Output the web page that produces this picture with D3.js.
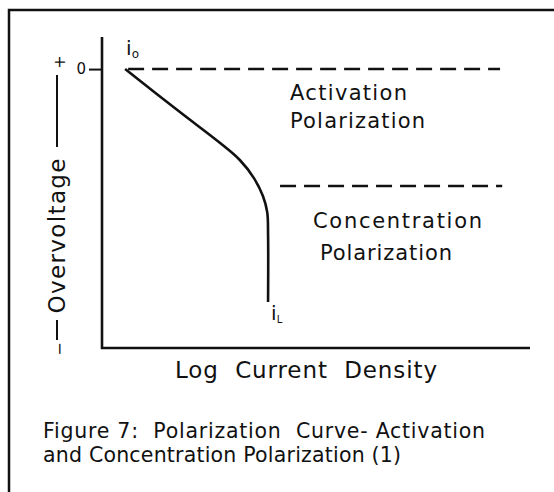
<!DOCTYPE html>
<html>
<head>
<meta charset="utf-8">
<script src="https://cdn.jsdelivr.net/npm/d3@7"></script>
<style>
  body { margin: 0; background: #fff; }
  svg { display: block; }
  text { font-family: 'DejaVu Sans', sans-serif; fill: #111; white-space: pre; }
</style>
</head>
<body>
<div id="chart"></div>
<script>
// polarization curve (log current density vs overvoltage)
const curveX = [0.54, 1.82, 2.76, 3.22, 3.55, 3.76, 3.86, 3.88, 3.88];
const curveY = [0, -0.154, -0.265, -0.326, -0.391, -0.455, -0.513, -0.595, -0.835];

// the two dashed boundaries
const boundaryNames = ['activation', 'concentration'];
const boundaryY = [0, -0.419];
const boundaryFrom = [0.61, 4.16];
const boundaryTo = [9.3, 9.35];

const regionLabels = [['Activation', 'Polarization'], ['Concentration', 'Polarization']];
const yTicks = [0];
const xLabel = 'Log  Current  Density';
const yLabel = 'Overvoltage';
const caption = ['Figure 7:  Polarization  Curve- Activation', 'and Concentration Polarization (1)'];

const width = 554, height = 492;
const margin = {top: 37, right: 24, bottom: 144, left: 102};

const svg = d3.select('#chart').append('svg')
  .attr('width', width)
  .attr('height', height);

// frame around the figure (top and left edges show on the scan)
svg.append('path')
  .attr('d', `M9,${height} L9,10 L${width},10`)
  .attr('fill', 'none')
  .attr('stroke', '#111')
  .attr('stroke-width', 2.5);

const x = d3.scaleLinear().domain([0, 10]).range([margin.left, width - margin.right]);
const y = d3.scaleLinear().domain([-1, 0.115]).range([height - margin.bottom, margin.top]);

// axes: plain L shape, one tick at 0
svg.append('path')
  .attr('d', `M${x(0)},${y(0.115)} L${x(0)},${y(-1)} L${x(10)},${y(-1)}`)
  .attr('fill', 'none')
  .attr('stroke', '#111')
  .attr('stroke-width', 2.6);

const yAxis = d3.axisLeft(y).tickValues(yTicks).tickFormat(d3.format('d')).tickSize(13).tickPadding(3);
const yg = svg.append('g').attr('transform', `translate(${x(0)},0)`).call(yAxis);
yg.select('.domain').remove();
yg.selectAll('.tick line').attr('stroke', '#111').attr('stroke-width', 2);
yg.selectAll('.tick text').style('font-size', '15px').attr('fill', '#111');

// dashed region boundaries
boundaryNames.forEach((name, i) => {
  svg.append('line')
    .attr('class', name)
    .attr('x1', x(boundaryFrom[i]))
    .attr('x2', x(boundaryTo[i]))
    .attr('y1', y(boundaryY[i]))
    .attr('y2', y(boundaryY[i]))
    .attr('stroke', '#111')
    .attr('stroke-width', 2.5)
    .attr('stroke-dasharray', '16,8');
});

// the curve itself
const pts = curveX.map((d, i) => [d, curveY[i]]);
const line = d3.line()
  .x(d => x(d[0]))
  .y(d => y(d[1]))
  .curve(d3.curveCatmullRom.alpha(0.5));

svg.append('path')
  .datum(pts)
  .attr('d', line)
  .attr('fill', 'none')
  .attr('stroke', '#111')
  .attr('stroke-width', 2.6);

// i0 and iL markers
const first = pts[0], last = pts[pts.length - 1];
const i0 = svg.append('text')
  .attr('x', x(first[0]) + 1)
  .attr('y', y(first[1]) - 14)
  .style('font-size', '20px');
i0.append('tspan').text('i');
i0.append('tspan').attr('dy', 3).style('font-size', '12px').text('o');

const iL = svg.append('text')
  .attr('x', x(last[0]) + 3)
  .attr('y', y(last[1]) + 18)
  .style('font-size', '20px');
iL.append('tspan').text('i');
iL.append('tspan').attr('dy', 3).style('font-size', '10px').text('L');

// region labels, widths
const labelPos = [[[290, 100], [290, 128]], [[313, 228], [320, 260]]];
const labelLen = [[117, 135], [169, 132]];
regionLabels.forEach((lines, i) => {
  lines.forEach((t, j) => {
    svg.append('text')
      .attr('x', labelPos[i][j][0])
      .attr('y', labelPos[i][j][1])
      .attr('textLength', labelLen[i][j])
      .attr('lengthAdjust', 'spacing')
      .style('font-size', '21px')
      .text(t);
  });
});

// axis titles
svg.append('text')
  .attr('x', 175)
  .attr('y', 378)
  .attr('textLength', 262)
  .attr('lengthAdjust', 'spacing')
  .style('font-size', '23px')
  .text(xLabel);

const yl = svg.append('g').attr('transform', 'translate(65,236) rotate(-90)');
yl.append('text')
  .attr('text-anchor', 'middle')
  .attr('textLength', 155)
  .attr('lengthAdjust', 'spacing')
  .style('font-size', '23px')
  .text(yLabel);
// the long dashes and signs around "Overvoltage"
yl.append('line').attr('x1', 89).attr('x2', 161).attr('y1', -8).attr('y2', -8)
  .attr('stroke', '#111').attr('stroke-width', 2);
yl.append('line').attr('x1', -84).attr('x2', -104).attr('y1', -8).attr('y2', -8)
  .attr('stroke', '#111').attr('stroke-width', 2);
yl.append('text').attr('x', 174).attr('text-anchor', 'middle').style('font-size', '16px').text('+');
yl.append('text').attr('x', -113).attr('text-anchor', 'middle').style('font-size', '16px').text('−');

// caption
const captionLen = [442, 358];
caption.forEach((t, i) => {
  svg.append('text')
    .attr('x', 43)
    .attr('y', 438 + i * 24)
    .attr('textLength', captionLen[i])
    .attr('lengthAdjust', 'spacing')
    .style('font-size', '20.5px')
    .text(t);
});
</script>
</body>
</html>
